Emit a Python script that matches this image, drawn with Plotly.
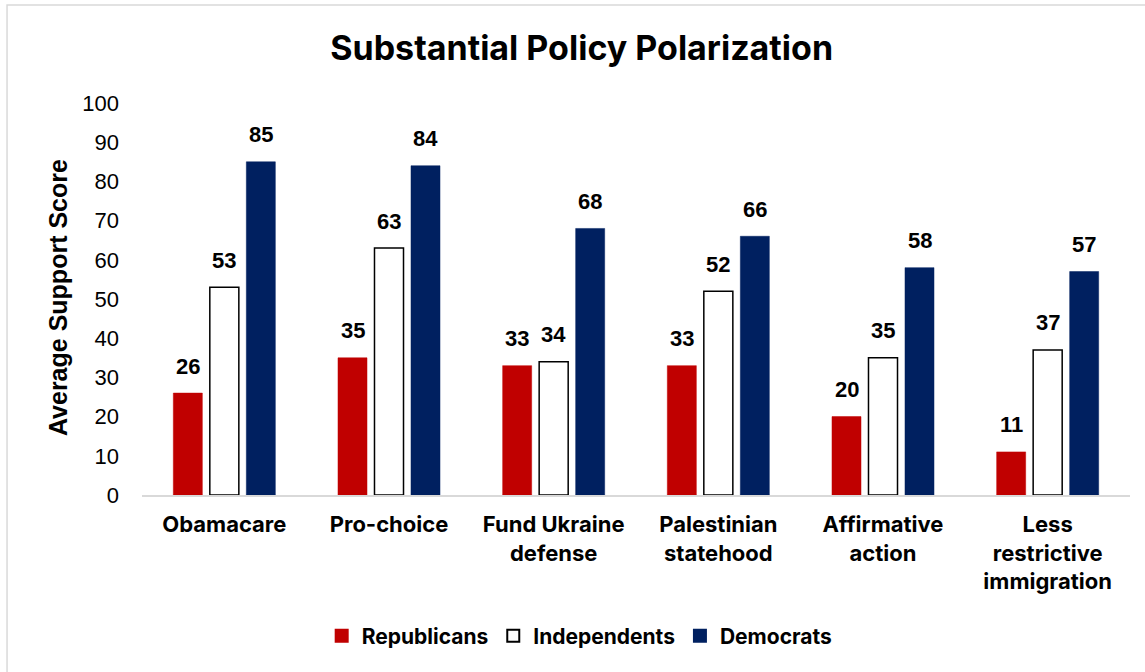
import plotly.graph_objects as go

categories = ["Obamacare", "Pro-choice", "Fund Ukraine<br>defense", "Palestinian<br>statehood",
              "Affirmative<br>action", "Less<br>restrictive<br>immigration"]
republicans = [26, 35, 33, 33, 20, 11]
independents = [53, 63, 34, 52, 35, 37]
democrats = [85, 84, 68, 66, 58, 57]

series = [
    ("Republicans", republicans, "#C00000", "#C00000", 0.5),
    ("Independents", independents, "#FFFFFF", "#000000", 1.5),
    ("Democrats", democrats, "#002060", "#002060", 0.5),
]

label_font = "Inter, 'Liberation Sans', Arial, sans-serif"
num_font = "'Liberation Sans', Arial, sans-serif"

fig = go.Figure()
for name, vals, fill, edge, lw in series:
    fig.add_trace(go.Bar(
        name=f"<b>{name}</b>", x=categories, y=vals,
        marker=dict(color=fill, line=dict(color=edge, width=lw)),
    ))

# value labels above each bar, shifted to the bar's slot within the group
offsets = [-36.5, 0, 36.5]
annotations = []
for (name, vals, *_), dx in zip(series, offsets):
    for cat, v in zip(categories, vals):
        annotations.append(dict(
            x=cat, y=v, xref="x", yref="y", text=f"<b>{v}</b>", showarrow=False,
            xshift=dx, yshift=27, font=dict(family=num_font, size=22, color="#000000"),
        ))

annotations.append(dict(
    x=-0.085, y=0.5025, xref="paper", yref="paper", text="<b>Average Support Score</b>",
    textangle=-90, showarrow=False, xanchor="center", yanchor="middle",
    font=dict(family=num_font, size=25, color="#000000"),
))

fig.update_layout(
    width=1145, height=672,
    margin=dict(l=142, r=15, t=103, b=177),
    paper_bgcolor="#FFFFFF", plot_bgcolor="#FFFFFF",
    barmode="group", bargap=0.335, bargroupgap=0.205,
    title=dict(text="<b>Substantial Policy Polarization</b>", x=0.508, xanchor="center",
               y=1 - 48 / 672, yanchor="middle",
               font=dict(family=label_font, size=34, color="#000000")),
    showlegend=True,
    legend=dict(orientation="h", x=0.443, xanchor="center", y=-0.36, yanchor="middle",
                font=dict(family=label_font, size=21, color="#000000"),
                itemsizing="constant", traceorder="normal", itemwidth=30),
    annotations=annotations,
    shapes=[dict(type="rect", xref="paper", yref="paper", x0=-0.1366, x1=1.1, y0=-0.6, y1=1.25,
                 line=dict(color="#D9D9D9", width=1.5), fillcolor="rgba(0,0,0,0)", layer="below")],
)

fig.update_xaxes(
    showline=True, linecolor="#D9D9D9", linewidth=1.5, ticks="", showgrid=False,
    tickfont=dict(family=label_font, size=22, color="#000000"), ticklabelstandoff=9,
    tickprefix="<b>", ticksuffix="</b>",
)
fig.update_yaxes(
    range=[0, 100], dtick=10, showgrid=False, showline=False, zeroline=False, ticks="",
    tickfont=dict(family=num_font, size=22, color="#000000"), ticklabelstandoff=22,
)

fig.write_html("out.html")
